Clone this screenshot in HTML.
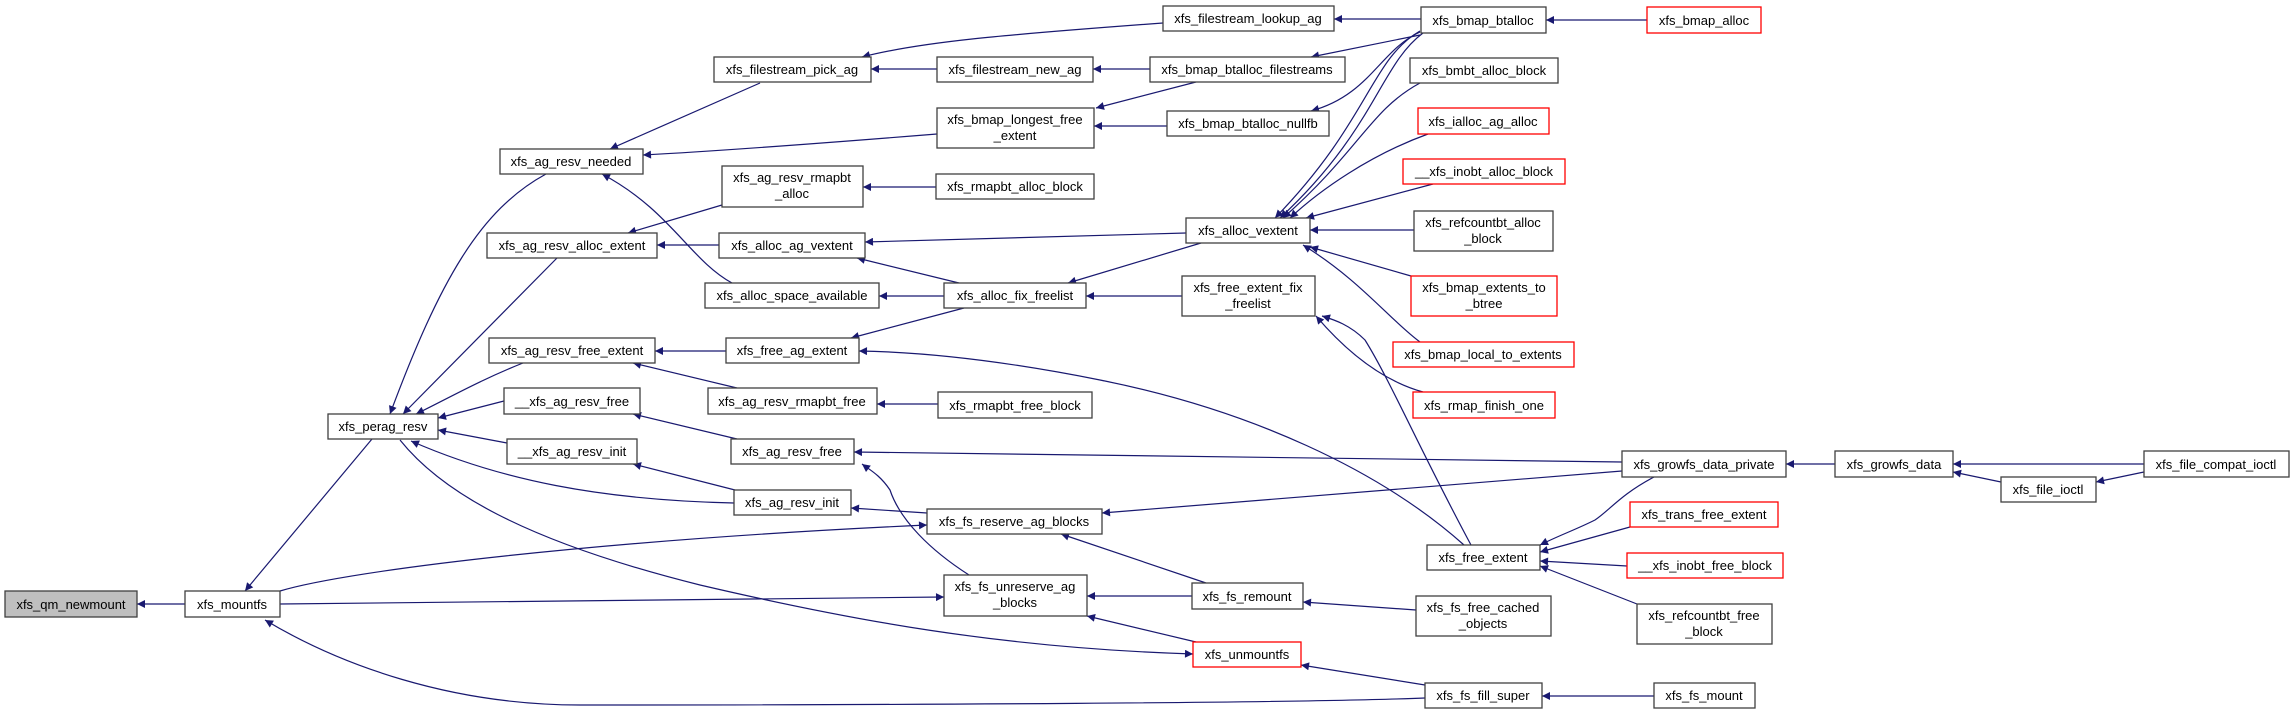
<!DOCTYPE html>
<html><head><meta charset="utf-8"><style>
html,body{margin:0;padding:0;background:#fff;}
svg{display:block;}
text{font-family:"Liberation Sans",Arial,sans-serif;font-size:13px;fill:#000;}
.n{fill:#fff;stroke:#404040;stroke-width:1.3;}
.r{fill:#fff;stroke:#ff0000;stroke-width:1.3;}
.g{fill:#bfbfbf;stroke:#404040;stroke-width:1.3;}
.e{fill:none;stroke:#191970;stroke-width:1.2;marker-end:url(#a);}
</style></head><body>
<svg width="2295" height="715" viewBox="0 0 2295 715" xmlns="http://www.w3.org/2000/svg">
<defs><marker id="a" viewBox="0 0 10 10" refX="10" refY="5" markerWidth="11" markerHeight="8" markerUnits="userSpaceOnUse" orient="auto"><path d="M0,0 L10,5 L0,10 z" fill="#191970"/></marker></defs>
<g>
<path class="e" d="M185,604 L137,604"/>
<path class="e" d="M372,439 L245,591"/>
<path class="e" d="M280,591 C350,570 600,540 927,525"/>
<path class="e" d="M280,604 L944,597"/>
<path class="e" d="M400,440 C440,490 520,540 700,585 C850,620 1000,648 1193,654"/>
<path class="e" d="M1425,698 C1300,703 900,705 580,705 C450,705 340,665 265,620"/>
<path class="e" d="M546,174 C480,210 440,280 390,414"/>
<path class="e" d="M557,258 L403,414"/>
<path class="e" d="M523,363 C480,380 445,400 416,414"/>
<path class="e" d="M504,401 L438,418"/>
<path class="e" d="M507,443 L438,430"/>
<path class="e" d="M734,503 C600,500 500,480 411,441"/>
<path class="e" d="M760,83 L610,149"/>
<path class="e" d="M937,134 C800,145 700,152 643,155"/>
<path class="e" d="M732,283 C690,260 670,210 602,174"/>
<path class="e" d="M722,205 L628,233"/>
<path class="e" d="M719,245 L657,245"/>
<path class="e" d="M726,351 L655,351"/>
<path class="e" d="M737,388 L633,363"/>
<path class="e" d="M737,439 L633,414"/>
<path class="e" d="M735,490 L633,464"/>
<path class="e" d="M936,187 L863,187"/>
<path class="e" d="M1163,23 C1000,35 920,42 862,57"/>
<path class="e" d="M937,69 L871,69"/>
<path class="e" d="M1150,69 L1093,69"/>
<path class="e" d="M1421,19 L1334,19"/>
<path class="e" d="M1420,35 L1311,57"/>
<path class="e" d="M1196,82 L1096,108"/>
<path class="e" d="M1167,126 L1094,126"/>
<path class="e" d="M1420,32 C1380,50 1370,95 1311,111"/>
<path class="e" d="M1647,20 L1546,20"/>
<path class="e" d="M1420,31 C1370,60 1370,120 1275,218"/>
<path class="e" d="M1423,33 C1380,65 1375,130 1280,218"/>
<path class="e" d="M1420,83 C1370,110 1360,150 1283,218"/>
<path class="e" d="M1428,134 C1370,155 1320,190 1290,218"/>
<path class="e" d="M1433,184 L1306,218"/>
<path class="e" d="M1414,230 L1310,230"/>
<path class="e" d="M1411,276 L1310,247"/>
<path class="e" d="M1420,342 C1390,320 1360,280 1303,245"/>
<path class="e" d="M1186,233 L865,242"/>
<path class="e" d="M1201,243 L1068,283"/>
<path class="e" d="M959,283 L857,258"/>
<path class="e" d="M944,296 L879,296"/>
<path class="e" d="M1182,296 L1086,296"/>
<path class="e" d="M964,308 L851,338"/>
<path class="e" d="M1464,545 C1380,470 1250,410 1100,380 C1000,360 920,352 859,351"/>
<path class="e" d="M1423,392 C1380,380 1345,350 1316,316"/>
<path class="e" d="M1471,545 C1420,450 1390,380 1365,340 C1350,325 1335,320 1322,316"/>
<path class="e" d="M938,404 L877,404"/>
<path class="e" d="M1622,462 L854,452"/>
<path class="e" d="M969,575 C930,550 900,520 890,490 C880,475 870,470 862,464"/>
<path class="e" d="M927,513 L851,508"/>
<path class="e" d="M1622,471 L1102,513"/>
<path class="e" d="M1206,583 L1061,534"/>
<path class="e" d="M1192,596 L1087,596"/>
<path class="e" d="M1196,642 L1087,616"/>
<path class="e" d="M1416,610 L1303,602"/>
<path class="e" d="M1425,685 L1301,665"/>
<path class="e" d="M1654,477 C1620,495 1610,510 1595,520 C1575,530 1560,535 1540,545"/>
<path class="e" d="M1630,527 L1540,552"/>
<path class="e" d="M1627,566 L1540,561"/>
<path class="e" d="M1637,604 L1540,566"/>
<path class="e" d="M1835,464 L1786,464"/>
<path class="e" d="M2144,464 L1953,464"/>
<path class="e" d="M2001,482 L1953,472"/>
<path class="e" d="M2144,472 L2096,482"/>
<path class="e" d="M1654,696 L1542,696"/>
</g>
<g text-anchor="middle">
<rect class="g" x="5" y="591" width="132" height="26"/><text x="71" y="609">xfs_qm_newmount</text>
<rect class="n" x="185" y="591" width="95" height="26"/><text x="232" y="609">xfs_mountfs</text>
<rect class="n" x="328" y="414" width="110" height="25"/><text x="383" y="431">xfs_perag_resv</text>
<rect class="n" x="500" y="149" width="143" height="25"/><text x="571" y="166">xfs_ag_resv_needed</text>
<rect class="n" x="487" y="233" width="170" height="25"/><text x="572" y="250">xfs_ag_resv_alloc_extent</text>
<rect class="n" x="489" y="338" width="166" height="25"/><text x="572" y="355">xfs_ag_resv_free_extent</text>
<rect class="n" x="504" y="388" width="136" height="26"/><text x="572" y="406">__xfs_ag_resv_free</text>
<rect class="n" x="507" y="439" width="130" height="25"/><text x="572" y="456">__xfs_ag_resv_init</text>
<rect class="n" x="714" y="57" width="157" height="25"/><text x="792" y="74">xfs_filestream_pick_ag</text>
<rect class="n" x="722" y="166" width="141" height="41"/><text x="792" y="182">xfs_ag_resv_rmapbt</text><text x="792" y="198">_alloc</text>
<rect class="n" x="719" y="233" width="146" height="25"/><text x="792" y="250">xfs_alloc_ag_vextent</text>
<rect class="n" x="705" y="283" width="174" height="25"/><text x="792" y="300">xfs_alloc_space_available</text>
<rect class="n" x="726" y="338" width="133" height="25"/><text x="792" y="355">xfs_free_ag_extent</text>
<rect class="n" x="708" y="388" width="169" height="26"/><text x="792" y="406">xfs_ag_resv_rmapbt_free</text>
<rect class="n" x="731" y="439" width="123" height="25"/><text x="792" y="456">xfs_ag_resv_free</text>
<rect class="n" x="734" y="490" width="117" height="25"/><text x="792" y="507">xfs_ag_resv_init</text>
<rect class="n" x="937" y="57" width="156" height="25"/><text x="1015" y="74">xfs_filestream_new_ag</text>
<rect class="n" x="937" y="108" width="157" height="40"/><text x="1015" y="124">xfs_bmap_longest_free</text><text x="1015" y="140">_extent</text>
<rect class="n" x="936" y="174" width="158" height="25"/><text x="1015" y="191">xfs_rmapbt_alloc_block</text>
<rect class="n" x="944" y="283" width="142" height="25"/><text x="1015" y="300">xfs_alloc_fix_freelist</text>
<rect class="n" x="938" y="392" width="154" height="26"/><text x="1015" y="410">xfs_rmapbt_free_block</text>
<rect class="n" x="927" y="509" width="175" height="25"/><text x="1014" y="526">xfs_fs_reserve_ag_blocks</text>
<rect class="n" x="944" y="575" width="143" height="41"/><text x="1015" y="591">xfs_fs_unreserve_ag</text><text x="1015" y="607">_blocks</text>
<rect class="n" x="1163" y="6" width="171" height="25"/><text x="1248" y="23">xfs_filestream_lookup_ag</text>
<rect class="n" x="1150" y="57" width="195" height="25"/><text x="1247" y="74">xfs_bmap_btalloc_filestreams</text>
<rect class="n" x="1167" y="111" width="162" height="25"/><text x="1248" y="128">xfs_bmap_btalloc_nullfb</text>
<rect class="n" x="1186" y="218" width="124" height="25"/><text x="1248" y="235">xfs_alloc_vextent</text>
<rect class="n" x="1182" y="276" width="133" height="40"/><text x="1248" y="292">xfs_free_extent_fix</text><text x="1248" y="308">_freelist</text>
<rect class="n" x="1192" y="583" width="111" height="26"/><text x="1247" y="601">xfs_fs_remount</text>
<rect class="r" x="1193" y="642" width="108" height="25"/><text x="1247" y="659">xfs_unmountfs</text>
<rect class="n" x="1421" y="7" width="125" height="26"/><text x="1483" y="25">xfs_bmap_btalloc</text>
<rect class="n" x="1410" y="58" width="148" height="25"/><text x="1484" y="75">xfs_bmbt_alloc_block</text>
<rect class="r" x="1418" y="108" width="131" height="26"/><text x="1483" y="126">xfs_ialloc_ag_alloc</text>
<rect class="r" x="1403" y="159" width="162" height="25"/><text x="1484" y="176">__xfs_inobt_alloc_block</text>
<rect class="n" x="1414" y="211" width="139" height="40"/><text x="1483" y="227">xfs_refcountbt_alloc</text><text x="1483" y="243">_block</text>
<rect class="r" x="1411" y="276" width="146" height="40"/><text x="1484" y="292">xfs_bmap_extents_to</text><text x="1484" y="308">_btree</text>
<rect class="r" x="1393" y="342" width="181" height="25"/><text x="1483" y="359">xfs_bmap_local_to_extents</text>
<rect class="r" x="1413" y="392" width="142" height="26"/><text x="1484" y="410">xfs_rmap_finish_one</text>
<rect class="n" x="1427" y="545" width="113" height="25"/><text x="1483" y="562">xfs_free_extent</text>
<rect class="n" x="1416" y="596" width="135" height="40"/><text x="1483" y="612">xfs_fs_free_cached</text><text x="1483" y="628">_objects</text>
<rect class="n" x="1425" y="683" width="117" height="25"/><text x="1483" y="700">xfs_fs_fill_super</text>
<rect class="r" x="1647" y="7" width="114" height="26"/><text x="1704" y="25">xfs_bmap_alloc</text>
<rect class="n" x="1622" y="451" width="164" height="26"/><text x="1704" y="469">xfs_growfs_data_private</text>
<rect class="r" x="1630" y="502" width="148" height="25"/><text x="1704" y="519">xfs_trans_free_extent</text>
<rect class="r" x="1627" y="553" width="156" height="25"/><text x="1705" y="570">__xfs_inobt_free_block</text>
<rect class="n" x="1637" y="604" width="135" height="40"/><text x="1704" y="620">xfs_refcountbt_free</text><text x="1704" y="636">_block</text>
<rect class="n" x="1654" y="683" width="101" height="25"/><text x="1704" y="700">xfs_fs_mount</text>
<rect class="n" x="1835" y="451" width="118" height="26"/><text x="1894" y="469">xfs_growfs_data</text>
<rect class="n" x="2001" y="477" width="95" height="25"/><text x="2048" y="494">xfs_file_ioctl</text>
<rect class="n" x="2144" y="451" width="145" height="26"/><text x="2216" y="469">xfs_file_compat_ioctl</text>
</g>
</svg>
</body></html>
